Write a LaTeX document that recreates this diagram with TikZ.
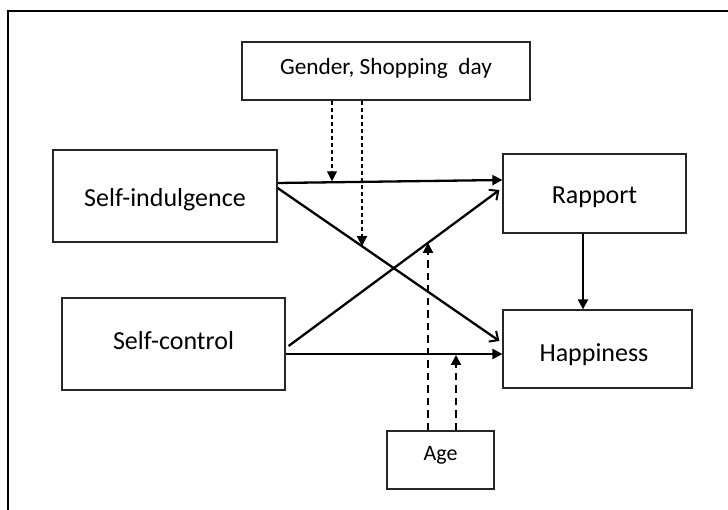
\documentclass[tikz,border=0pt]{standalone}
\usepackage{fontspec}
\setmainfont{Carlito}
\usetikzlibrary{arrows.meta,intersections}
\begin{document}
\begin{tikzpicture}[x=1pt,y=-1pt,
  box/.style={draw=black!85, line width=1.2pt, rectangle, inner sep=0pt, anchor=center, text depth=0pt},
  big/.style={font=\fontsize{26}{30}\selectfont},
  small/.style={font=\fontsize{23.3}{27}\selectfont},
  solidarr/.style={line width=2.3pt, -{Triangle[length=10pt,width=10pt]}},
  openarr/.style={line width=2.3pt, -{Straight Barb[length=7pt,width=13pt,line width=2pt]}},
  thindash/.style={line width=1.2pt, dash pattern=on 4pt off 3pt, -{Triangle[length=10pt,width=10pt]}},
  thickdash/.style={line width=2.2pt, dash pattern=on 7.5pt off 5pt, -{Triangle[length=10pt,width=10pt]}}]
\useasboundingbox (0,0) rectangle (728,510);
\fill[black] (7.2,10.2) rectangle (8.8,510);
\fill[black] (7.2,10.2) rectangle (728,11.8);

\node[box, small, text height=8pt, minimum width=288pt, minimum height=58pt] (gender) at (386,71) {Gender, Shopping~~day};
\node[box, big, text height=21.4pt, minimum width=224pt, minimum height=92pt] (indul) at (165,196) {Self-indulgence};
\node[box, big, text height=19.6pt, minimum width=183pt, minimum height=79pt] (rapport) at (594.5,193.5) {Rapport};
\node[box, big, text height=12pt, minimum width=223pt, minimum height=92pt] (control) at (173.5,344) {Self-control};
\node[box, big, text height=25.4pt, minimum width=189pt, minimum height=78pt] (happy) at (597.5,349) {Happiness\hspace*{7pt}};
\node[box, font=\fontsize{22}{26}\selectfont, text height=0pt, minimum width=107pt, minimum height=58pt] (age) at (440.5,460) {Age};

\draw[solidarr, name path=ir] ([yshift=13pt]indul.east) -- ([yshift=13.5pt]rapport.west);
\draw[openarr, name path=ih] ([yshift=8pt]indul.east) -- ([xshift=-3pt,yshift=8pt]happy.west);
\draw[openarr, name path=cr] ([xshift=3pt,yshift=-2pt]control.east) -- ([xshift=-3pt,yshift=3.5pt]rapport.west);
\draw[solidarr, name path=ch] ([yshift=-10pt]control.east) -- ([yshift=-5pt]happy.west);
\draw[solidarr] ([xshift=-11.5pt]rapport.south) -- ([xshift=-11.5pt]rapport.south |- happy.north);

\path[name path=g1] ([xshift=-54pt]gender.south) -- ++(0,300);
\path[name path=g2] ([xshift=-24pt]gender.south) -- ++(0,300);
\path[name path=a1] ([xshift=-12.5pt]age.north) -- ++(0,-300);
\path[name path=a2] ([xshift=15.5pt]age.north) -- ++(0,-300);
\path[name intersections={of=g1 and ir, by=t1}];
\path[name intersections={of=g2 and ih, by=t2}];
\path[name intersections={of=a1 and cr, by=t3}];
\path[name intersections={of=a2 and ch, by=t4}];
\coordinate (t1e) at ([yshift=1pt]t1);
\coordinate (t4e) at ([yshift=-1pt]t4);
\draw[thindash] ([xshift=-54pt]gender.south) -- (t1e);
\draw[thindash] ([xshift=-24pt]gender.south) -- (t2);
\draw[thickdash] ([xshift=-12.5pt]age.north) -- (t3);
\draw[thickdash] ([xshift=15.5pt]age.north) -- (t4e);
\end{tikzpicture}
\end{document}
